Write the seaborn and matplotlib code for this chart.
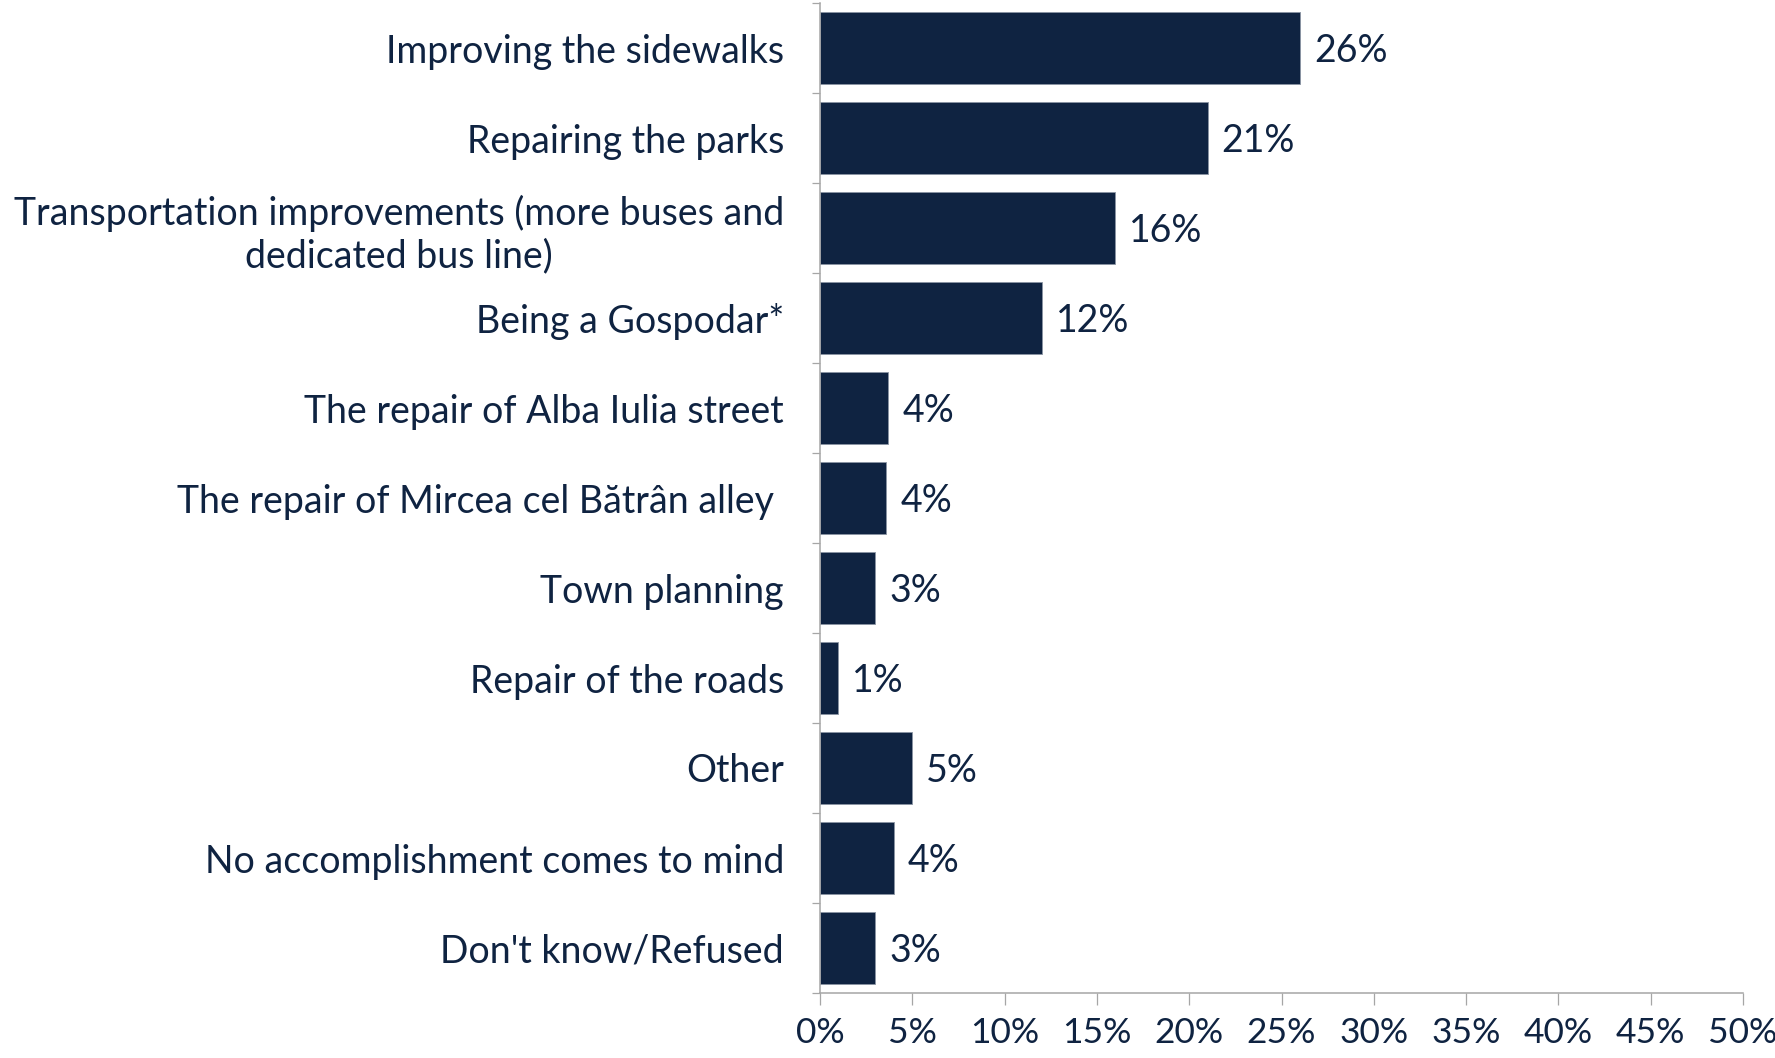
import matplotlib
matplotlib.use("Agg")
import matplotlib.pyplot as plt
import seaborn as sns
import pandas as pd
from matplotlib.ticker import FixedLocator, PercentFormatter

categories = [
    "Improving the sidewalks",
    "Repairing the parks",
    "Transportation improvements (more buses and\ndedicated bus line)",
    "Being a Gospodar*",
    "The repair of Alba Iulia street",
    "The repair of Mircea cel Bătrân alley ",
    "Town planning",
    "Repair of the roads",
    "Other",
    "No accomplishment comes to mind",
    "Don't know/Refused",
]
values = [26.0, 21.0, 16.0, 12.0, 3.7, 3.6, 3.0, 1.0, 5.0, 4.0, 3.0]
value_labels = ["26%", "21%", "16%", "12%", "4%", "4%", "3%", "1%", "5%", "4%", "3%"]
x_ticks = [0, 5, 10, 15, 20, 25, 30, 35, 40, 45, 50]

sns.set_theme(style="white")
plt.rcParams["font.family"] = ["Lato", "DejaVu Sans"]

NAVY = "#0F2341"
GRAY = "#A6A6A6"
FS = 27

df = pd.DataFrame({"cat": categories, "val": values})
fig = plt.figure(figsize=(17.75, 10.58), dpi=100)
ax = fig.add_axes([820 / 1775, 1 - 993 / 1058, (1743 - 820) / 1775, (993 - 3) / 1058])
sns.barplot(data=df, y="cat", x="val", orient="h", color=NAVY, width=0.79,
            edgecolor="#8A94A3", linewidth=0.6, ax=ax, saturation=1)

ax.set_xlim(0, 50)
ax.set_ylim(len(categories) - 0.5, -0.5)
ax.xaxis.set_major_locator(FixedLocator(x_ticks))
ax.xaxis.set_major_formatter(PercentFormatter(decimals=0))
ax.set_xlabel("")
ax.set_ylabel("")

for s in ["top", "right"]:
    ax.spines[s].set_visible(False)
for s in ["left", "bottom"]:
    ax.spines[s].set_visible(True)
    ax.spines[s].set_color(GRAY)
    ax.spines[s].set_linewidth(1.1)

ax.tick_params(axis="x", which="major", direction="out", length=8.6, width=0.9,
               color=GRAY, labelsize=25.5, labelcolor=NAVY, pad=9, bottom=True)
ax.tick_params(axis="y", which="major", length=0, labelsize=FS, labelcolor=NAVY, pad=26)
ax.yaxis.set_minor_locator(FixedLocator([i - 0.5 for i in range(len(categories) + 1)]))
ax.tick_params(axis="y", which="minor", direction="out", length=6, width=0.9, color=GRAY, left=True)
for lbl in ax.get_yticklabels():
    lbl.set_horizontalalignment("right")
    lbl.set_multialignment("center")

for i, (v, t) in enumerate(zip(values, value_labels)):
    ax.annotate(t, xy=(v, i), xytext=(14, 0), textcoords="offset pixels",
                va="center_baseline", ha="left", fontsize=FS, color=NAVY)

fig.savefig("out.png", dpi=100)
